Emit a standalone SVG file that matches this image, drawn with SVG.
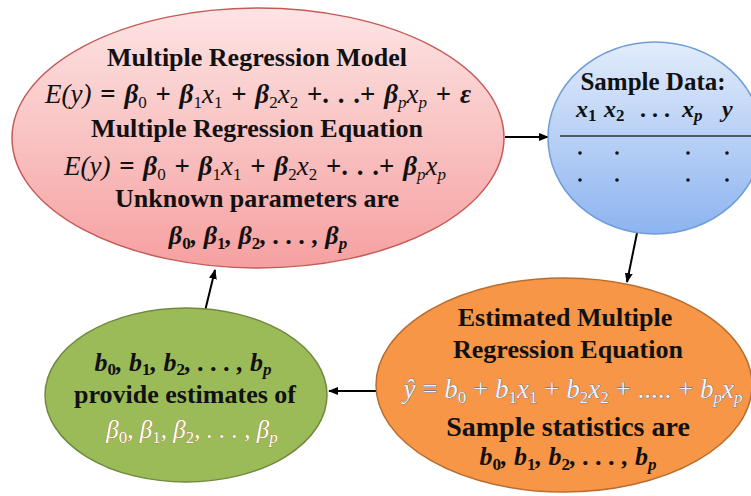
<svg xmlns="http://www.w3.org/2000/svg" width="751" height="496" viewBox="0 0 751 496">
<defs>
<linearGradient id="gRed" x1="0" y1="0" x2="0" y2="1">
<stop offset="0" stop-color="#fde4e4"/>
<stop offset="1" stop-color="#f6a0a0"/>
</linearGradient>
<linearGradient id="gBlue" x1="0" y1="0" x2="0" y2="1">
<stop offset="0" stop-color="#e2ecfb"/>
<stop offset="1" stop-color="#8db4f0"/>
</linearGradient>
<marker id="arr" viewBox="0 0 10 8" refX="9" refY="4" markerWidth="10" markerHeight="8" markerUnits="userSpaceOnUse" orient="auto">
<path d="M0,0 L10,4 L0,8 Z" fill="#000"/>
</marker>
<style>
.t{font-family:"Liberation Serif","Times New Roman",serif;font-weight:bold;font-size:26px;fill:#111;text-anchor:middle}
.m{font-family:"Liberation Serif","Times New Roman",serif;font-style:italic;font-size:26px;fill:#111;text-anchor:middle}
.b{font-weight:bold}
.n{font-style:normal}
.s{font-size:17px}
.edge{stroke:#000;stroke-width:2;fill:none;marker-end:url(#arr)}
.eq{fill:#eef4fc;stroke:#2f62a8;stroke-width:0.6;paint-order:stroke}
.gb{fill:#ffffff;stroke:#b86a2a;stroke-width:0.6;paint-order:stroke}
</style>
</defs>

<g id="connectors">
<line class="edge" x1="505" y1="137" x2="548" y2="137"/>
<line class="edge" x1="637" y1="233" x2="627" y2="282"/>
<line class="edge" x1="378" y1="391" x2="329" y2="391"/>
<line class="edge" x1="205" y1="311" x2="215" y2="270"/>
</g>

<g id="model">
<ellipse cx="258" cy="138" rx="246" ry="130" fill="url(#gRed)" stroke="#c65a58" stroke-width="1.5"/>
<text class="t" x="257" y="66">Multiple Regression Model</text>
<text class="m" x="258" y="103" style="font-size:27px;word-spacing:2px">E(y) <tspan class="n b">=</tspan> <tspan class="b">β</tspan><tspan class="s n" dy="5">0</tspan><tspan dy="-5"> <tspan class="n b">+</tspan> </tspan><tspan class="b">β</tspan><tspan class="s n" dy="5">1</tspan><tspan dy="-5">x</tspan><tspan class="s n" dy="5">1</tspan><tspan dy="-5"> <tspan class="n b">+</tspan> </tspan><tspan class="b">β</tspan><tspan class="s n" dy="5">2</tspan><tspan dy="-5">x</tspan><tspan class="s n" dy="5">2</tspan><tspan dy="-5" class="n b"> +. . .+ </tspan><tspan class="b">β</tspan><tspan class="s" dy="5">p</tspan><tspan dy="-5">x</tspan><tspan class="s" dy="5">p</tspan><tspan dy="-5"> <tspan class="n b">+</tspan> <tspan class="b">ε</tspan></tspan></text>
<text class="t" x="257" y="137">Multiple Regression Equation</text>
<text class="m" x="255" y="175" style="font-size:27px;word-spacing:2px">E(y) <tspan class="n b">=</tspan> <tspan class="b">β</tspan><tspan class="s n" dy="5">0</tspan><tspan dy="-5"> <tspan class="n b">+</tspan> </tspan><tspan class="b">β</tspan><tspan class="s n" dy="5">1</tspan><tspan dy="-5">x</tspan><tspan class="s n" dy="5">1</tspan><tspan dy="-5"> <tspan class="n b">+</tspan> </tspan><tspan class="b">β</tspan><tspan class="s n" dy="5">2</tspan><tspan dy="-5">x</tspan><tspan class="s n" dy="5">2</tspan><tspan dy="-5" class="n b"> +. . .+ </tspan><tspan class="b">β</tspan><tspan class="s" dy="5">p</tspan><tspan dy="-5">x</tspan><tspan class="s" dy="5">p</tspan></text>
<text class="t" x="257" y="207">Unknown parameters are</text>
<text class="m b" x="258" y="244">β<tspan class="s n" dy="5">0</tspan><tspan dy="-5">, β</tspan><tspan class="s n" dy="5">1</tspan><tspan dy="-5">, β</tspan><tspan class="s n" dy="5">2</tspan><tspan dy="-5">, . . . , β</tspan><tspan class="s" dy="5">p</tspan></text>
</g>

<g id="sample">
<ellipse cx="655" cy="138" rx="107" ry="96" fill="url(#gBlue)" stroke="#6f9dd8" stroke-width="1.5"/>
<text class="t" x="653" y="90" style="font-size:25px">Sample Data:</text>
<g class="m b" style="font-size:24px;text-anchor:start">
<text x="576" y="117">x<tspan class="s n" dy="4">1</tspan></text>
<text x="604" y="117">x<tspan class="s n" dy="4">2</tspan></text>
<text x="640" y="117" class="n">. . .</text>
<text x="682" y="117">x<tspan class="s" dy="4">p</tspan></text>
<text x="722" y="117">y</text>
</g>
<line x1="560" y1="136" x2="751" y2="136" stroke="#333" stroke-width="1.5"/>
<g fill="#111">
<circle cx="580" cy="153" r="1.8"/><circle cx="617" cy="153" r="1.8"/><circle cx="688" cy="153" r="1.8"/><circle cx="727" cy="153" r="1.8"/>
<circle cx="580" cy="180" r="1.8"/><circle cx="617" cy="180" r="1.8"/><circle cx="688" cy="180" r="1.8"/><circle cx="727" cy="180" r="1.8"/>
</g>
</g>

<g id="estimated">
<ellipse cx="564" cy="385" rx="188" ry="107" fill="#f79646" stroke="#b86d30" stroke-width="1.5"/>
<text class="t" x="565" y="326">Estimated Multiple</text>
<text class="t" x="568" y="358">Regression Equation</text>
<text class="m eq" x="573" y="398" style="font-size:27px">ŷ <tspan class="n">=</tspan> b<tspan class="s n" dy="5">0</tspan><tspan dy="-5" class="n"> + </tspan>b<tspan class="s n" dy="5">1</tspan><tspan dy="-5">x</tspan><tspan class="s n" dy="5">1</tspan><tspan dy="-5" class="n"> + </tspan>b<tspan class="s n" dy="5">2</tspan><tspan dy="-5">x</tspan><tspan class="s n" dy="5">2</tspan><tspan dy="-5" class="n"> + ..... + </tspan>b<tspan class="s" dy="5">p</tspan><tspan dy="-5">x</tspan><tspan class="s" dy="5">p</tspan></text>
<text class="t" x="568" y="436" style="font-size:28px">Sample statistics are</text>
<text class="m b" x="568" y="465">b<tspan class="s n" dy="5">0</tspan><tspan dy="-5">, b</tspan><tspan class="s n" dy="5">1</tspan><tspan dy="-5">, b</tspan><tspan class="s n" dy="5">2</tspan><tspan dy="-5">, . . . , b</tspan><tspan class="s" dy="5">p</tspan></text>
</g>

<g id="estimates">
<ellipse cx="186" cy="395" rx="141" ry="87" fill="#9bbb59" stroke="#71893f" stroke-width="1.5"/>
<text class="m b" x="183" y="371">b<tspan class="s n" dy="4">0</tspan><tspan dy="-4">, b</tspan><tspan class="s n" dy="4">1</tspan><tspan dy="-4">, b</tspan><tspan class="s n" dy="4">2</tspan><tspan dy="-4">, . . . , b</tspan><tspan class="s" dy="4">p</tspan></text>
<text class="t" x="185" y="403">provide estimates of</text>
<text class="m gb" x="192" y="438" style="font-size:25px">β<tspan class="s n" dy="5">0</tspan><tspan dy="-5">, β</tspan><tspan class="s n" dy="5">1</tspan><tspan dy="-5">, β</tspan><tspan class="s n" dy="5">2</tspan><tspan dy="-5">, . . . , β</tspan><tspan class="s" dy="5">p</tspan></text>
</g>
</svg>
